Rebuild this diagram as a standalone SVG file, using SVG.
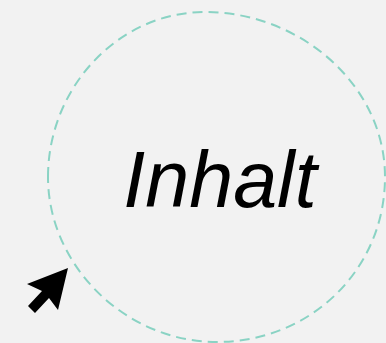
<svg xmlns="http://www.w3.org/2000/svg" width="386" height="343" viewBox="0 0 386 343">
<style>
.blob{fill:none;stroke:#8ad3c4;stroke-width:2;stroke-dasharray:10 6}
.lbl{font-family:"Liberation Sans",Arial,sans-serif;font-style:italic;font-size:79px;fill:#000}
</style>
<rect width="386" height="343" fill="#f2f2f2"/>
<g id="content">
<path class="blob" d="M48,177 C48,88 118,12 205,12 C300,12 385,85 385,177 C385,270 310,342 217,342 C125,342 48,265 48,177 Z"/>
<text class="lbl" x="220" y="207" text-anchor="middle">Inhalt</text>
</g>
<g id="cursor">
<polygon points="68,268 27,284 42,291 28,306 35,313 49,298 58,310" fill="#000"/>
</g>
</svg>
